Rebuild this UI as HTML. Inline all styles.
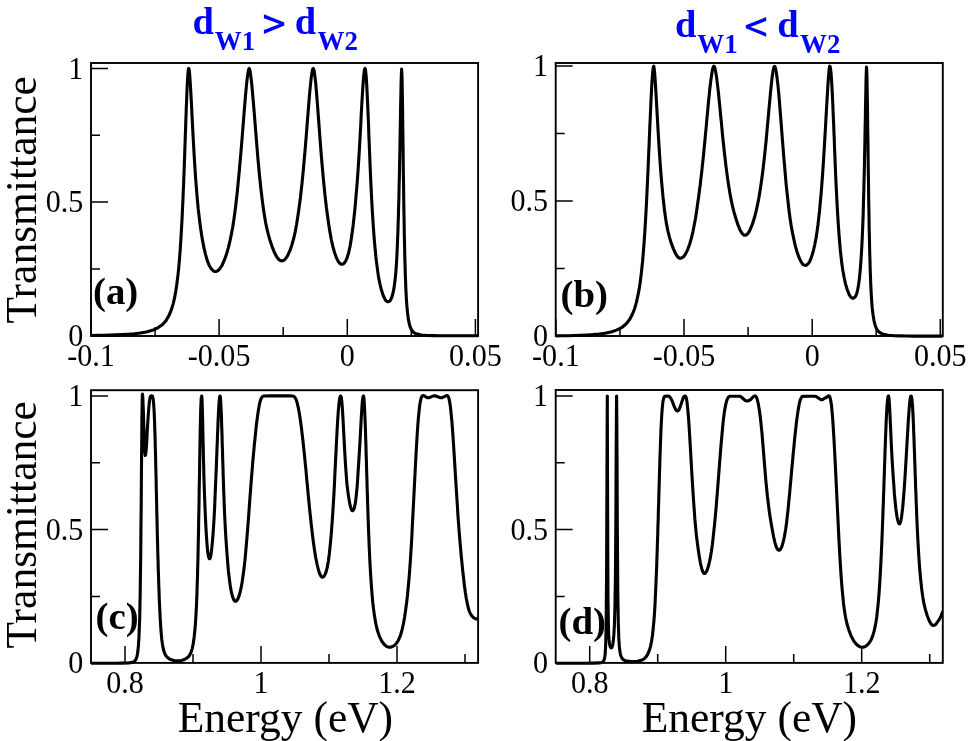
<!DOCTYPE html>
<html><head><meta charset="utf-8"><title>Transmittance</title>
<style>
html,body{margin:0;padding:0;background:#fff;}
body{width:969px;height:741px;overflow:hidden;}
svg{display:block;will-change:transform;}
text{font-family:"Liberation Serif",serif;fill:#000;}
.tk{font-size:32px;}
.ax{font-size:43.5px;}
.tag{font-size:37px;font-weight:bold;}
.ttl{font-weight:bold;fill:#0000ff;}
.fr{fill:none;stroke:#000;stroke-width:1.9;}
.t{stroke:#000;stroke-width:1.5;fill:none;}
.cv{fill:none;stroke:#000;stroke-width:3.1;stroke-linejoin:round;stroke-linecap:butt;}
</style></head>
<body>
<svg width="969" height="741" viewBox="0 0 969 741">
<rect x="0" y="0" width="969" height="741" fill="#fff"/>
<!-- panel a -->
<clipPath id="cpa"><rect x="91.0" y="62.0" width="387.1" height="276.0"/></clipPath>
<path class="t" d="M91.0 335.7h17M91.0 268.9h9M91.0 202.1h17M91.0 135.3h9M91.0 68.5h17M91.0 336.0v-17M219.1 336.0v-17M347.3 336.0v-17M475.4 336.0v-17M155.1 336.0v-9M283.2 336.0v-9M411.3 336.0v-9"/>
<path class="cv" clip-path="url(#cpa)" d="M91.0 335.5 L97.2 335.4 L103.5 335.3 L109.7 335.1 L115.9 334.9 L122.2 334.6 L128.4 334.2 L134.4 333.7 L140.4 333.0 L146.4 331.9 L152.4 330.3 L157.9 327.8 L162.6 324.4 L166.1 320.4 L168.8 315.8 L171.3 309.8 L173.1 304.1 L174.6 297.7 L175.8 290.9 L176.8 284.3 L177.8 276.4 L178.6 269.3 L179.3 261.2 L179.8 255.0 L180.3 248.2 L180.8 240.7 L181.3 232.4 L181.8 223.3 L182.3 213.4 L182.8 202.5 L183.3 190.6 L183.6 184.3 L183.8 177.9 L184.1 171.2 L184.3 164.3 L184.6 157.3 L184.8 150.2 L185.1 142.9 L185.3 135.6 L185.6 128.4 L185.8 121.2 L186.1 114.1 L186.3 107.2 L186.6 100.7 L186.8 94.5 L187.3 83.6 L187.8 75.3 L188.3 70.1 L188.6 68.7 L188.8 68.3 L189.0 69.1 L189.3 70.8 L189.8 76.2 L190.3 83.5 L190.8 92.1 L191.3 101.4 L191.8 111.1 L192.3 120.9 L192.8 130.6 L193.3 140.0 L193.8 149.0 L194.3 157.6 L194.8 165.7 L195.3 173.3 L195.8 180.4 L196.3 187.0 L196.8 193.0 L197.5 201.3 L198.2 208.7 L199.0 215.4 L199.7 221.5 L200.7 228.8 L201.7 235.4 L202.7 241.4 L204.0 247.9 L205.5 254.3 L207.2 260.3 L209.4 265.8 L211.2 268.7 L212.7 270.3 L213.9 271.2 L215.2 271.5 L216.4 271.4 L217.9 270.6 L219.6 269.0 L221.9 265.6 L224.6 259.5 L226.6 253.8 L228.3 247.8 L229.8 241.7 L231.3 234.6 L232.6 227.7 L233.6 221.4 L234.6 214.4 L235.6 206.7 L236.3 200.5 L237.1 193.8 L237.8 186.6 L238.5 179.1 L239.3 171.1 L240.0 162.7 L240.8 153.9 L241.3 147.9 L241.8 141.7 L242.3 135.5 L242.8 129.2 L243.3 122.8 L243.8 116.5 L244.3 110.2 L244.8 104.1 L245.5 95.3 L246.3 87.1 L247.0 80.0 L248.0 72.7 L248.5 70.2 L248.8 69.3 L249.0 68.7 L249.2 68.5 L249.5 68.8 L249.7 69.6 L250.2 71.9 L251.2 79.4 L252.0 86.6 L252.7 94.9 L253.5 103.8 L254.0 110.0 L254.5 116.2 L255.0 122.5 L255.5 128.8 L256.0 135.0 L256.5 141.1 L257.2 150.0 L257.9 158.5 L258.7 166.8 L259.4 174.6 L260.2 182.0 L260.9 188.9 L261.7 195.4 L262.4 201.4 L263.4 208.7 L264.4 215.3 L265.6 222.5 L266.9 228.6 L268.4 234.7 L270.1 240.8 L272.1 246.6 L274.3 252.2 L276.8 257.0 L278.8 259.5 L280.3 260.6 L281.6 260.9 L282.8 260.8 L284.0 260.2 L285.5 258.8 L287.5 255.9 L290.0 250.4 L292.0 244.5 L293.8 238.0 L295.3 231.3 L296.5 224.8 L297.7 217.3 L298.7 210.6 L299.7 203.1 L300.5 197.0 L301.2 190.5 L302.0 183.5 L302.7 176.1 L303.5 168.2 L304.2 159.8 L305.0 151.1 L305.5 145.0 L306.0 138.9 L306.5 132.6 L307.0 126.2 L307.5 119.9 L308.0 113.5 L308.5 107.3 L309.0 101.2 L309.7 92.5 L310.5 84.6 L311.2 77.8 L312.0 72.6 L312.5 70.1 L312.7 69.3 L313.0 68.7 L313.2 68.5 L313.4 68.7 L313.7 69.3 L314.2 71.3 L314.9 76.3 L315.7 83.1 L316.4 91.3 L316.9 97.3 L317.4 103.7 L317.9 110.3 L318.4 117.1 L318.9 123.9 L319.4 130.7 L319.9 137.4 L320.4 144.0 L320.9 150.4 L321.4 156.7 L321.9 162.7 L322.7 171.3 L323.4 179.5 L324.2 187.1 L324.9 194.4 L325.7 201.1 L326.4 207.5 L327.2 213.5 L328.2 220.8 L329.2 227.5 L330.2 233.4 L331.4 240.0 L332.9 246.7 L334.7 253.0 L336.7 258.4 L338.4 261.7 L339.7 263.2 L340.7 264.0 L341.7 264.3 L342.4 264.2 L343.4 263.8 L344.4 262.9 L345.6 261.1 L347.1 257.8 L348.6 252.9 L350.1 246.1 L351.3 238.8 L352.3 231.7 L353.1 225.7 L353.8 219.2 L354.6 212.2 L355.3 204.6 L356.0 196.3 L356.8 187.3 L357.3 180.8 L357.8 173.9 L358.3 166.6 L358.8 158.8 L359.3 150.6 L359.8 142.0 L360.3 133.2 L360.8 124.1 L361.2 115.1 L361.7 106.1 L362.2 97.5 L362.7 89.4 L363.2 82.2 L363.7 76.1 L364.2 71.6 L364.5 70.0 L364.7 68.9 L365.0 68.5 L365.2 68.8 L365.5 69.8 L365.7 71.5 L366.2 76.9 L366.7 84.6 L367.2 94.3 L367.7 105.4 L368.2 117.5 L368.5 123.7 L368.7 130.0 L368.9 136.3 L369.2 142.6 L369.4 148.8 L369.7 155.0 L369.9 161.0 L370.4 172.7 L370.9 183.7 L371.4 194.0 L371.9 203.5 L372.4 212.3 L372.9 220.4 L373.4 227.9 L373.9 234.7 L374.4 241.0 L375.2 249.5 L375.9 257.0 L376.7 263.6 L377.7 271.1 L378.6 277.4 L379.9 283.8 L381.4 290.0 L383.4 296.0 L384.9 299.1 L386.1 300.8 L387.1 301.5 L387.9 301.8 L388.6 301.7 L389.4 301.3 L390.1 300.6 L391.1 298.9 L392.1 296.4 L393.1 292.7 L394.1 287.4 L395.1 279.8 L395.9 271.6 L396.4 264.5 L396.9 255.7 L397.4 245.0 L397.6 238.8 L397.9 232.1 L398.1 224.6 L398.4 216.6 L398.6 207.7 L398.9 198.0 L399.1 187.3 L399.4 175.8 L399.6 163.3 L399.9 150.1 L400.1 136.2 L400.4 121.9 L400.6 107.7 L400.9 94.3 L401.1 82.4 L401.4 73.4 L401.6 69.0 L401.8 71.9 L402.1 80.3 L402.3 93.5 L402.6 110.3 L402.8 129.4 L403.1 149.2 L403.3 168.9 L403.6 187.6 L403.8 204.9 L404.1 220.5 L404.3 234.3 L404.6 246.6 L404.8 257.2 L405.1 266.5 L405.3 274.6 L405.6 281.6 L405.8 287.7 L406.3 297.6 L406.8 305.1 L407.6 313.3 L408.3 318.9 L409.3 324.0 L410.3 327.3 L411.6 329.9 L413.1 331.9 L415.3 333.5 L421.3 335.1 L427.3 335.5 L433.6 335.6 L439.8 335.7 L446.0 335.7 L452.3 335.7 L458.5 335.7 L464.8 335.7 L471.0 335.7 L477.3 335.7 L478.5 335.7"/>
<rect class="fr" x="91.0" y="63.0" width="387.1" height="273.0"/>
<text class="tk" text-anchor="end" transform="translate(83.3,345.8) scale(0.94,1)">0</text>
<text class="tk" text-anchor="end" transform="translate(83.3,212.2) scale(0.94,1)">0.5</text>
<text class="tk" text-anchor="end" transform="translate(83.3,78.6) scale(0.94,1)">1</text>
<text class="tk" text-anchor="middle" transform="translate(91.0,365.7) scale(0.94,1)">-0.1</text>
<text class="tk" text-anchor="middle" transform="translate(219.1,365.7) scale(0.94,1)">-0.05</text>
<text class="tk" text-anchor="middle" transform="translate(347.3,365.7) scale(0.94,1)">0</text>
<text class="tk" text-anchor="middle" transform="translate(475.4,365.7) scale(0.94,1)">0.05</text>
<text class="tag" transform="translate(93.0,303.5) scale(1.05,1)">(a)</text>
<!-- panel b -->
<clipPath id="cpb"><rect x="555.7" y="62.0" width="387.1" height="276.0"/></clipPath>
<path class="t" d="M555.7 336.1h17M555.7 268.6h9M555.7 201.1h17M555.7 133.6h9M555.7 66.1h17M555.9 336.0v-17M684.0 336.0v-17M812.2 336.0v-17M940.3 336.0v-17M620.0 336.0v-9M748.1 336.0v-9M876.2 336.0v-9"/>
<path class="cv" clip-path="url(#cpb)" d="M555.7 335.9 L561.9 335.8 L568.2 335.7 L574.4 335.5 L580.7 335.3 L586.9 335.0 L592.9 334.6 L598.9 334.0 L604.9 333.2 L610.9 332.0 L616.6 330.1 L622.1 327.3 L626.3 323.7 L629.6 319.5 L632.3 314.5 L634.6 308.7 L636.3 302.7 L637.8 296.2 L639.1 289.4 L640.1 282.9 L641.1 275.3 L641.8 268.7 L642.6 261.2 L643.3 252.7 L643.8 246.4 L644.3 239.6 L644.8 232.2 L645.3 224.2 L645.8 215.6 L646.3 206.3 L646.8 196.4 L647.3 185.9 L647.8 174.8 L648.3 163.2 L648.8 151.3 L649.1 145.2 L649.3 139.1 L649.6 133.0 L649.8 127.0 L650.1 121.0 L650.6 109.3 L651.1 98.4 L651.6 88.5 L652.1 80.1 L652.6 73.4 L653.1 68.8 L653.3 67.4 L653.6 66.5 L653.8 66.2 L654.0 67.1 L654.5 71.4 L655.0 77.8 L655.5 85.3 L656.0 93.7 L656.5 102.5 L657.0 111.4 L657.5 120.4 L658.0 129.1 L658.5 137.6 L659.0 145.8 L659.5 153.5 L660.0 160.9 L660.5 167.9 L661.0 174.4 L661.5 180.6 L662.3 189.2 L663.0 197.0 L663.8 204.0 L664.5 210.3 L665.5 217.6 L666.5 223.9 L667.8 230.5 L669.3 236.6 L671.0 242.4 L673.3 248.6 L675.8 254.0 L677.5 256.7 L678.8 257.8 L679.8 258.2 L680.7 258.3 L682.0 257.8 L683.5 256.7 L685.2 254.5 L687.5 250.1 L689.7 243.9 L691.5 237.7 L693.0 231.3 L694.2 225.1 L695.5 218.2 L696.5 212.1 L697.4 205.5 L698.4 198.5 L699.4 190.9 L700.2 185.0 L700.9 178.7 L701.7 172.1 L702.4 165.3 L703.2 158.1 L703.9 150.7 L704.7 143.0 L705.4 135.1 L706.2 126.9 L706.9 118.8 L707.7 110.7 L708.4 102.7 L709.2 95.1 L709.9 88.0 L710.7 81.5 L711.7 74.2 L712.4 70.1 L712.9 68.0 L713.4 66.7 L713.7 66.3 L713.9 66.2 L714.1 66.3 L714.4 66.7 L714.9 68.0 L715.6 71.3 L716.6 77.5 L717.6 85.6 L718.4 92.4 L719.1 99.7 L719.9 107.3 L720.6 115.0 L721.4 122.7 L722.1 130.4 L722.8 137.8 L723.6 145.0 L724.3 151.9 L725.1 158.5 L725.8 164.8 L726.8 172.6 L727.8 179.9 L728.8 186.5 L729.8 192.6 L731.0 199.2 L732.5 206.1 L734.0 212.1 L735.8 218.3 L737.8 224.4 L740.2 230.4 L742.0 233.2 L743.2 234.5 L744.2 235.1 L745.0 235.2 L746.0 235.0 L746.9 234.4 L748.2 233.1 L749.9 230.2 L752.4 224.2 L754.4 217.8 L756.1 211.1 L757.6 204.3 L758.9 197.8 L760.1 190.4 L761.1 183.7 L762.1 176.5 L763.1 168.6 L763.8 162.3 L764.6 155.6 L765.3 148.5 L766.1 141.0 L766.8 133.2 L767.5 125.2 L768.3 116.9 L769.0 108.6 L769.8 100.3 L770.5 92.4 L771.3 85.0 L772.0 78.3 L773.0 71.3 L773.5 68.8 L774.0 67.1 L774.3 66.6 L774.5 66.4 L774.8 66.5 L775.0 66.9 L775.5 68.2 L776.2 71.8 L777.2 79.0 L778.0 85.9 L778.8 93.9 L779.5 102.7 L780.0 108.8 L780.5 115.1 L781.0 121.5 L781.5 128.0 L782.0 134.5 L782.5 140.9 L783.0 147.2 L783.5 153.5 L784.0 159.6 L784.8 168.5 L785.5 176.9 L786.2 184.9 L787.0 192.4 L787.8 199.5 L788.5 206.0 L789.2 212.0 L790.2 219.4 L791.2 225.8 L792.5 232.9 L793.8 239.1 L795.2 245.4 L797.0 251.7 L799.0 257.5 L801.0 261.7 L802.5 263.9 L803.8 264.9 L804.8 265.3 L805.7 265.4 L806.7 265.0 L808.0 263.9 L809.5 261.8 L811.2 257.9 L813.2 251.5 L814.7 245.0 L816.0 238.3 L817.0 231.9 L818.0 224.5 L818.7 218.2 L819.5 211.2 L820.2 203.5 L821.0 194.9 L821.5 188.8 L822.0 182.2 L822.5 175.3 L823.0 168.1 L823.5 160.4 L824.0 152.5 L824.5 144.2 L825.0 135.6 L825.5 126.8 L826.0 117.9 L826.5 109.0 L827.0 100.2 L827.5 91.8 L828.0 83.8 L828.5 76.8 L829.2 68.7 L829.5 67.0 L829.7 66.2 L829.9 66.4 L830.2 66.9 L830.4 68.0 L830.9 71.9 L831.4 77.9 L831.9 85.9 L832.4 95.7 L832.9 106.8 L833.4 118.8 L833.7 125.0 L833.9 131.2 L834.2 137.5 L834.4 143.7 L834.6 149.9 L834.9 156.0 L835.1 162.0 L835.6 173.7 L836.1 184.6 L836.6 194.9 L837.1 204.4 L837.6 213.2 L838.1 221.3 L838.6 228.7 L839.1 235.5 L839.6 241.7 L840.3 249.9 L841.1 257.1 L841.8 263.3 L842.8 270.2 L844.1 277.2 L845.5 283.9 L847.3 289.8 L849.0 294.2 L850.2 296.3 L851.2 297.4 L852.2 298.1 L853.0 298.2 L853.7 298.1 L854.4 297.6 L855.2 296.8 L855.9 295.5 L856.7 293.7 L857.4 291.0 L858.4 285.9 L859.4 278.6 L860.1 271.6 L860.8 262.7 L861.3 255.4 L861.8 246.7 L862.3 236.5 L862.8 224.1 L863.1 217.1 L863.3 209.4 L863.5 201.0 L863.8 191.8 L864.0 181.8 L864.3 171.0 L864.5 159.3 L864.8 146.9 L865.0 133.8 L865.3 120.3 L865.5 106.7 L865.8 93.5 L866.0 81.6 L866.3 72.0 L866.5 67.0 L866.7 69.9 L867.0 78.3 L867.2 91.4 L867.5 107.9 L867.7 126.5 L868.0 145.9 L868.2 165.1 L868.5 183.4 L868.7 200.3 L869.0 215.7 L869.2 229.5 L869.5 241.6 L869.7 252.4 L870.0 261.8 L870.2 270.0 L870.5 277.1 L870.7 283.4 L871.2 293.6 L871.7 301.5 L872.2 307.7 L873.0 314.5 L874.0 320.6 L875.0 324.7 L876.2 328.0 L877.5 330.2 L879.2 332.1 L882.2 333.9 L888.2 335.3 L894.2 335.7 L900.4 335.9 L906.7 336.0 L912.9 336.1 L919.1 336.1 L925.4 336.1 L931.6 336.1 L937.9 336.1 L943.1 336.1"/>
<rect class="fr" x="555.7" y="63.0" width="387.1" height="273.0"/>
<text class="tk" text-anchor="end" transform="translate(548.0,346.2) scale(0.94,1)">0</text>
<text class="tk" text-anchor="end" transform="translate(548.0,211.2) scale(0.94,1)">0.5</text>
<text class="tk" text-anchor="end" transform="translate(548.0,76.2) scale(0.94,1)">1</text>
<text class="tk" text-anchor="middle" transform="translate(555.9,365.7) scale(0.94,1)">-0.1</text>
<text class="tk" text-anchor="middle" transform="translate(684.0,365.7) scale(0.94,1)">-0.05</text>
<text class="tk" text-anchor="middle" transform="translate(812.2,365.7) scale(0.94,1)">0</text>
<text class="tk" text-anchor="middle" transform="translate(940.3,365.7) scale(0.94,1)">0.05</text>
<text class="tag" transform="translate(560.5,306.5) scale(1.05,1)">(b)</text>
<!-- panel c -->
<clipPath id="cpc"><rect x="91.0" y="389.2" width="387.1" height="275.7"/></clipPath>
<path class="t" d="M91.0 663.3h17M91.0 596.5h9M91.0 529.6h17M91.0 462.8h9M91.0 396.0h17M125.0 662.9v-17M261.0 662.9v-17M397.0 662.9v-17M193.0 662.9v-9M329.0 662.9v-9M465.0 662.9v-9"/>
<path class="cv" clip-path="url(#cpc)" d="M91.0 663.2 L97.2 663.2 L103.5 663.2 L109.7 663.2 L116.0 663.2 L122.2 663.1 L128.4 663.0 L132.4 662.4 L133.9 661.7 L134.9 660.8 L135.7 659.8 L136.4 658.2 L136.9 656.6 L137.4 654.2 L137.9 650.8 L138.4 645.7 L138.9 637.9 L139.4 625.8 L139.7 617.4 L139.9 606.8 L140.2 593.5 L140.4 577.0 L140.7 556.9 L140.9 532.8 L141.2 505.2 L141.4 475.2 L141.7 445.2 L141.9 418.9 L142.2 400.6 L142.4 394.0 L142.6 395.3 L142.9 399.2 L143.4 412.4 L143.6 420.4 L143.9 428.5 L144.1 436.0 L144.3 442.7 L144.8 452.2 L145.1 454.7 L145.3 455.5 L145.5 455.0 L145.8 453.5 L146.3 448.3 L146.8 440.7 L147.2 432.2 L147.7 423.7 L148.2 415.9 L148.7 409.1 L149.4 401.7 L149.9 398.5 L150.4 396.7 L150.6 396.2 L150.9 396.0 L151.1 395.8 L151.8 395.8 L152.1 395.9 L152.3 396.1 L152.6 396.6 L152.8 397.5 L153.1 398.8 L153.6 403.2 L154.1 410.9 L154.6 422.5 L154.8 429.8 L155.1 438.0 L155.3 447.2 L155.6 457.1 L155.8 467.7 L156.1 478.6 L156.3 489.8 L156.6 501.1 L156.8 512.3 L157.1 523.2 L157.3 533.7 L157.6 543.7 L157.8 553.2 L158.1 562.1 L158.3 570.4 L158.6 578.4 L158.8 586.0 L159.1 593.1 L159.3 599.7 L159.6 605.8 L160.1 616.4 L160.6 625.0 L161.1 631.9 L161.8 639.7 L162.6 645.1 L163.3 649.0 L164.3 652.4 L165.5 655.1 L167.0 657.1 L169.5 659.0 L174.3 660.7 L180.0 660.9 L184.5 659.5 L187.5 657.6 L189.0 656.1 L190.2 654.2 L191.2 651.9 L192.2 648.6 L193.2 643.8 L194.2 636.7 L195.0 629.1 L195.5 622.6 L196.0 614.6 L196.5 604.6 L197.0 592.1 L197.2 584.7 L197.5 576.4 L197.7 567.1 L198.0 556.8 L198.2 545.5 L198.5 533.1 L198.7 519.6 L199.0 505.2 L199.2 490.1 L199.5 474.7 L199.7 459.3 L200.0 444.6 L200.2 431.1 L200.5 419.4 L200.7 410.0 L201.0 403.0 L201.2 398.6 L201.5 396.5 L201.7 396.0 L201.9 397.9 L202.2 403.4 L202.4 411.9 L202.7 422.4 L202.9 433.9 L203.2 445.6 L203.4 456.8 L203.7 467.3 L203.9 476.8 L204.2 485.1 L204.4 492.5 L204.7 499.2 L204.9 505.3 L205.4 516.6 L205.9 526.9 L206.4 535.7 L206.9 542.9 L207.6 550.8 L208.1 554.4 L208.6 556.9 L209.1 558.3 L209.4 558.7 L209.6 558.8 L209.8 558.7 L210.1 558.2 L210.6 556.6 L211.1 553.9 L211.8 547.9 L212.6 539.7 L213.1 533.2 L213.6 525.9 L214.1 517.6 L214.6 508.2 L215.0 497.7 L215.5 486.4 L216.0 474.2 L216.3 467.9 L216.5 461.4 L216.8 454.9 L217.0 448.3 L217.3 441.7 L217.5 435.1 L217.8 428.8 L218.0 422.7 L218.5 411.8 L219.0 403.3 L219.5 397.8 L219.8 396.4 L220.0 396.0 L220.2 396.5 L220.5 398.3 L220.7 401.5 L221.2 411.8 L221.5 418.5 L221.7 426.0 L222.0 434.1 L222.2 442.5 L222.5 451.0 L222.7 459.5 L223.0 467.9 L223.2 475.9 L223.5 483.7 L223.7 491.0 L224.0 498.0 L224.2 504.4 L224.7 516.0 L225.2 526.0 L225.7 534.9 L226.2 542.7 L226.7 549.9 L227.2 556.5 L227.7 562.6 L228.4 570.9 L229.2 577.8 L230.2 585.3 L231.4 592.4 L232.7 597.2 L233.7 599.6 L234.4 600.8 L234.9 601.2 L235.4 601.3 L235.9 601.2 L236.4 600.9 L237.1 600.1 L238.1 598.4 L239.4 594.9 L240.9 588.9 L242.1 582.2 L243.1 575.6 L244.1 567.7 L244.9 560.9 L245.6 553.3 L246.3 544.9 L247.1 535.9 L247.6 529.5 L248.1 523.0 L248.6 516.3 L249.1 509.5 L249.6 502.7 L250.1 495.9 L250.6 489.3 L251.1 482.7 L251.6 476.4 L252.1 470.3 L252.8 461.5 L253.6 453.1 L254.3 445.2 L255.1 437.7 L255.8 430.6 L256.5 424.0 L257.3 417.9 L258.3 410.8 L259.5 404.0 L260.5 400.2 L261.3 398.3 L262.0 397.1 L262.8 396.4 L263.8 396.0 L270.0 395.9 L276.2 395.9 L282.5 395.9 L288.8 395.9 L292.7 396.0 L293.7 396.4 L294.5 396.9 L295.2 397.9 L296.0 399.3 L297.0 402.2 L298.2 407.3 L299.5 414.3 L300.5 421.0 L301.5 428.5 L302.2 434.7 L303.0 441.2 L303.7 448.1 L304.5 455.4 L305.2 462.9 L306.0 470.7 L306.7 478.8 L307.5 486.9 L308.2 494.8 L309.0 502.5 L309.7 510.0 L310.5 517.2 L311.2 524.1 L312.0 530.7 L312.7 536.8 L313.7 544.5 L314.7 551.4 L315.7 557.5 L317.0 564.0 L318.5 570.2 L319.7 573.8 L320.7 575.8 L321.5 576.7 L322.0 577.1 L322.4 577.2 L322.9 577.1 L323.4 576.8 L324.2 576.0 L324.9 574.8 L325.9 572.3 L327.2 567.7 L328.4 560.8 L329.4 553.2 L330.1 546.3 L330.9 538.1 L331.4 532.1 L331.9 525.5 L332.4 518.5 L332.9 511.0 L333.4 502.9 L333.9 494.4 L334.4 485.3 L334.8 475.9 L335.3 466.0 L335.8 456.0 L336.3 445.9 L336.8 436.0 L337.3 426.7 L337.8 418.3 L338.3 411.0 L339.1 402.7 L339.6 399.0 L339.8 397.8 L340.1 396.9 L340.3 396.3 L340.6 396.1 L340.8 396.0 L341.0 396.3 L341.3 397.4 L341.8 401.4 L342.3 407.6 L342.8 415.6 L343.3 424.6 L343.8 434.1 L344.3 443.6 L344.8 452.8 L345.3 461.4 L345.8 469.1 L346.3 475.9 L347.0 484.5 L347.8 491.1 L348.8 498.1 L350.0 504.9 L350.8 507.8 L351.5 509.8 L352.0 510.5 L352.3 510.7 L352.5 510.8 L352.7 510.7 L353.0 510.6 L353.5 510.0 L354.0 508.8 L354.7 506.2 L355.5 502.1 L356.2 496.1 L357.0 488.1 L357.5 481.7 L357.9 474.7 L358.4 467.4 L358.9 459.7 L359.4 451.7 L359.9 443.1 L360.4 434.1 L360.9 424.6 L361.4 415.5 L361.9 407.4 L362.4 401.1 L362.7 398.8 L362.9 397.2 L363.2 396.3 L363.4 396.0 L363.6 396.4 L363.9 397.9 L364.1 400.4 L364.6 408.8 L365.1 421.0 L365.4 428.2 L365.6 436.0 L365.9 444.2 L366.1 452.6 L366.4 461.2 L366.6 469.9 L366.9 478.5 L367.1 486.9 L367.4 495.1 L367.6 503.1 L367.9 510.8 L368.1 518.2 L368.4 525.3 L368.6 532.0 L368.9 538.3 L369.1 544.4 L369.6 555.5 L370.1 565.3 L370.6 574.1 L371.1 581.8 L371.6 588.7 L372.1 594.8 L372.8 602.7 L373.6 609.4 L374.6 616.6 L375.8 623.7 L377.3 630.1 L379.3 636.1 L382.0 641.5 L384.5 644.7 L386.5 646.4 L388.2 647.1 L390.4 647.2 L392.7 646.5 L394.7 645.2 L396.7 643.0 L398.4 640.2 L400.2 636.2 L401.9 630.5 L403.4 623.9 L404.6 617.0 L405.6 610.3 L406.6 602.7 L407.4 596.0 L408.1 588.5 L408.9 580.0 L409.4 573.8 L409.9 567.1 L410.4 559.9 L410.9 552.2 L411.4 544.1 L411.9 535.5 L412.3 526.4 L412.8 517.1 L413.3 507.4 L413.8 497.6 L414.3 487.7 L414.8 477.9 L415.3 468.2 L415.8 458.7 L416.3 449.6 L416.8 441.0 L417.3 432.9 L417.8 425.6 L418.3 419.1 L419.1 410.9 L419.8 404.6 L420.6 400.3 L421.1 398.3 L421.6 396.9 L422.1 396.1 L422.6 395.7 L423.3 395.6 L424.1 395.7 L426.8 397.5 L427.6 397.8 L429.3 397.6 L433.5 395.9 L435.0 395.8 L440.5 397.7 L441.7 397.8 L445.9 395.8 L446.9 395.6 L447.4 395.7 L447.9 396.0 L448.4 396.9 L448.9 398.2 L449.6 401.6 L450.4 406.7 L451.1 413.4 L451.9 421.8 L452.4 428.2 L452.9 435.2 L453.4 442.6 L453.9 450.4 L454.4 458.4 L454.9 466.6 L455.4 474.8 L455.9 482.9 L456.4 490.8 L456.9 498.5 L457.4 506.0 L457.8 513.3 L458.3 520.3 L458.8 527.0 L459.3 533.5 L459.8 539.7 L460.6 548.5 L461.3 556.7 L462.1 564.4 L462.8 571.5 L463.6 578.2 L464.3 584.6 L465.3 592.2 L466.3 598.6 L467.6 605.0 L469.0 610.5 L470.3 613.5 L472.0 616.2 L473.8 617.9 L475.8 618.9 L478.5 619.3"/>
<rect class="fr" x="91.0" y="390.2" width="387.1" height="272.7"/>
<text class="tk" text-anchor="end" transform="translate(83.3,673.4) scale(0.94,1)">0</text>
<text class="tk" text-anchor="end" transform="translate(83.3,539.8) scale(0.94,1)">0.5</text>
<text class="tk" text-anchor="end" transform="translate(83.3,406.1) scale(0.94,1)">1</text>
<text class="tk" text-anchor="middle" transform="translate(125.0,692.6) scale(0.94,1)">0.8</text>
<text class="tk" text-anchor="middle" transform="translate(261.0,692.6) scale(0.94,1)">1</text>
<text class="tk" text-anchor="middle" transform="translate(397.0,692.6) scale(0.94,1)">1.2</text>
<text class="tag" transform="translate(95.5,628.5) scale(1.05,1)">(c)</text>
<!-- panel d -->
<clipPath id="cpd"><rect x="555.7" y="389.0" width="387.1" height="275.9"/></clipPath>
<path class="t" d="M555.7 663.3h17M555.7 596.5h9M555.7 529.6h17M555.7 462.8h9M555.7 396.0h17M589.7 662.9v-17M725.7 662.9v-17M861.7 662.9v-17M657.7 662.9v-9M793.7 662.9v-9M929.7 662.9v-9"/>
<path class="cv" clip-path="url(#cpd)" d="M555.7 663.2 L561.9 663.2 L568.2 663.2 L574.4 663.2 L580.6 663.2 L586.9 663.2 L593.1 663.1 L599.3 662.9 L601.8 662.4 L602.8 661.9 L603.3 661.4 L603.8 660.6 L604.3 659.2 L604.8 656.7 L605.1 654.6 L605.3 651.5 L605.6 646.8 L605.8 639.4 L606.1 627.1 L606.3 606.1 L606.6 569.9 L606.8 510.8 L607.1 436.0 L607.3 396.0 L607.5 470.7 L607.8 557.6 L608.0 599.6 L608.3 619.4 L608.5 629.7 L608.7 635.7 L609.0 639.4 L609.5 643.8 L610.0 646.0 L610.4 647.2 L610.9 647.7 L611.4 647.9 L611.6 647.8 L611.9 647.4 L612.4 646.0 L612.9 643.5 L613.4 639.8 L613.9 634.2 L614.4 624.9 L614.6 618.1 L614.9 609.1 L615.1 596.5 L615.4 578.6 L615.6 552.4 L615.9 515.0 L616.1 466.0 L616.4 416.9 L616.6 396.0 L616.8 417.3 L617.1 470.6 L617.3 524.6 L617.6 565.0 L617.8 592.4 L618.1 610.7 L618.3 623.1 L618.6 631.8 L618.8 637.9 L619.3 645.9 L619.8 650.6 L620.3 653.6 L620.8 655.6 L621.6 657.5 L622.3 658.7 L623.3 659.7 L625.3 660.7 L631.3 661.6 L637.5 661.3 L642.0 660.1 L644.5 658.5 L646.2 656.6 L647.7 654.3 L649.2 650.7 L650.5 646.4 L651.5 641.6 L652.5 635.0 L653.2 628.4 L654.0 620.0 L654.5 613.1 L655.0 605.0 L655.4 595.7 L655.9 584.9 L656.4 572.6 L656.7 565.9 L656.9 558.8 L657.2 551.4 L657.4 543.6 L657.7 535.6 L657.9 527.4 L658.2 518.9 L658.4 510.4 L658.7 501.7 L658.9 492.9 L659.2 484.3 L659.4 475.7 L659.7 467.4 L659.9 459.4 L660.2 451.8 L660.4 444.5 L660.7 437.8 L660.9 431.7 L661.4 421.0 L661.9 412.6 L662.4 406.4 L662.9 402.1 L663.4 399.3 L663.9 397.5 L664.4 396.6 L664.9 396.2 L667.9 396.0 L668.9 396.3 L669.6 396.8 L670.6 398.0 L672.1 400.9 L674.3 406.7 L675.5 409.3 L676.3 410.3 L676.8 410.7 L677.3 411.0 L677.8 411.0 L678.2 410.6 L678.8 410.0 L679.8 407.9 L681.8 401.9 L683.2 397.9 L684.0 396.7 L684.5 396.2 L685.0 396.0 L685.2 396.0 L685.5 396.2 L685.7 396.5 L686.0 397.1 L686.5 398.9 L687.0 401.9 L687.7 408.7 L688.5 417.8 L689.0 425.1 L689.5 433.0 L690.0 441.4 L690.5 450.0 L691.0 458.8 L691.5 467.5 L692.0 476.0 L692.5 484.3 L693.0 492.2 L693.5 499.7 L694.0 506.8 L694.5 513.5 L694.9 519.7 L695.7 528.0 L696.4 535.2 L697.2 541.7 L698.2 549.3 L699.2 556.0 L700.4 563.1 L701.7 568.4 L702.7 571.4 L703.4 572.8 L703.9 573.3 L704.2 573.5 L704.6 573.5 L705.1 573.3 L705.9 572.5 L706.6 571.3 L707.6 568.9 L709.1 563.5 L710.4 557.4 L711.4 551.3 L712.4 544.2 L713.1 538.1 L713.8 531.4 L714.6 524.1 L715.3 516.3 L716.1 507.8 L716.8 498.9 L717.3 492.8 L717.8 486.5 L718.3 480.0 L718.8 473.5 L719.3 467.0 L719.8 460.5 L720.3 454.1 L720.8 447.9 L721.3 441.8 L722.1 433.3 L722.8 425.5 L723.5 418.7 L724.5 411.1 L725.8 404.1 L726.8 400.4 L727.5 398.6 L728.3 397.4 L729.0 396.7 L730.0 396.2 L736.2 396.2 L739.7 396.3 L740.9 396.8 L745.0 400.3 L746.3 400.9 L747.8 400.9 L749.2 400.5 L750.8 399.4 L753.2 396.7 L754.0 396.2 L755.0 396.0 L755.5 396.1 L756.0 396.6 L756.5 397.4 L757.2 399.3 L758.2 403.4 L759.5 410.9 L760.5 418.8 L761.2 425.6 L762.0 433.4 L762.7 442.0 L763.2 448.0 L763.7 454.2 L764.2 460.4 L764.7 466.6 L765.2 472.6 L765.9 481.2 L766.7 489.1 L767.4 496.2 L768.2 502.5 L769.1 510.1 L770.1 516.9 L771.1 523.1 L772.4 530.3 L773.6 536.8 L775.1 543.1 L776.3 547.0 L777.3 549.0 L777.8 549.7 L778.3 550.1 L778.8 550.2 L779.3 550.2 L779.8 549.9 L780.6 549.0 L781.6 547.2 L782.8 543.5 L784.3 537.1 L785.6 529.8 L786.6 522.5 L787.3 516.2 L788.1 509.2 L788.8 501.7 L789.6 493.7 L790.3 485.4 L791.1 477.1 L791.8 468.8 L792.6 460.6 L793.3 452.6 L794.1 444.8 L794.8 437.2 L795.6 430.1 L796.3 423.5 L797.1 417.4 L798.1 410.4 L799.3 403.6 L800.3 399.9 L801.1 398.0 L801.6 397.2 L802.1 396.7 L802.6 396.4 L808.8 396.3 L815.0 396.3 L816.2 396.6 L820.7 399.5 L821.7 399.8 L822.4 399.7 L824.9 398.0 L825.4 397.8 L825.9 397.8 L826.4 397.5 L827.9 396.1 L828.4 395.8 L828.9 395.8 L829.1 395.9 L829.4 396.2 L829.6 396.5 L830.1 397.8 L830.6 399.9 L831.4 404.7 L832.1 411.9 L832.6 417.9 L833.1 424.9 L833.6 432.9 L834.1 441.6 L834.6 450.9 L835.1 460.7 L835.6 470.9 L836.1 481.2 L836.6 491.6 L837.1 501.9 L837.6 512.2 L838.1 522.5 L838.6 532.6 L839.1 542.3 L839.6 551.5 L840.1 560.2 L840.6 568.3 L841.1 575.8 L841.6 582.6 L842.1 588.8 L842.9 597.0 L843.6 604.0 L844.6 611.6 L845.6 617.5 L847.1 624.3 L848.9 630.3 L851.1 635.9 L854.1 641.4 L856.6 644.5 L858.9 646.3 L860.9 647.1 L863.1 647.2 L865.3 646.5 L867.3 645.1 L869.3 642.8 L871.1 639.8 L872.8 635.6 L874.3 630.4 L875.8 623.1 L876.8 616.4 L877.5 610.1 L878.3 602.4 L878.8 596.5 L879.3 589.7 L879.8 582.1 L880.3 573.6 L880.8 564.2 L881.3 553.8 L881.8 542.7 L882.3 530.7 L882.5 524.3 L882.8 517.8 L883.0 510.9 L883.3 504.0 L883.5 496.8 L883.8 489.5 L884.0 482.1 L884.3 474.6 L884.5 467.1 L884.8 459.7 L885.0 452.4 L885.3 445.3 L885.5 438.4 L885.8 431.8 L886.0 425.7 L886.5 414.8 L887.0 406.3 L887.5 400.3 L887.8 398.3 L888.0 396.9 L888.3 396.2 L888.5 396.0 L888.7 396.7 L889.0 398.5 L889.5 405.4 L890.0 415.1 L890.5 426.2 L891.0 437.5 L891.5 448.1 L892.0 457.6 L892.5 466.0 L893.0 473.7 L893.5 480.9 L894.0 487.6 L894.4 493.9 L895.2 502.2 L895.9 509.0 L896.9 516.2 L897.7 520.1 L898.2 521.9 L898.7 523.2 L898.9 523.6 L899.2 523.8 L899.4 523.9 L899.6 523.8 L899.9 523.5 L900.4 522.4 L900.9 520.6 L901.6 516.5 L902.6 508.4 L903.3 500.6 L903.8 494.4 L904.3 487.7 L904.8 480.3 L905.3 472.4 L905.8 464.1 L906.3 455.5 L906.8 446.7 L907.3 438.0 L907.8 429.3 L908.3 421.1 L908.8 413.6 L909.3 407.0 L910.0 399.8 L910.5 397.0 L910.8 396.2 L911.0 396.0 L911.2 396.1 L911.5 396.7 L911.7 397.9 L912.0 399.8 L912.5 405.8 L913.0 414.6 L913.5 425.9 L913.7 432.2 L914.0 438.9 L914.2 445.9 L914.5 453.1 L914.7 460.4 L915.0 467.7 L915.2 474.9 L915.5 482.1 L915.7 489.1 L916.0 495.9 L916.2 502.5 L916.5 508.8 L916.7 514.9 L917.2 526.3 L917.7 536.7 L918.2 546.0 L918.7 554.4 L919.2 561.9 L919.7 568.6 L920.2 574.6 L921.0 582.4 L921.7 589.1 L922.7 596.4 L923.9 603.4 L925.4 609.7 L927.2 615.5 L929.2 620.7 L930.7 623.4 L931.7 624.6 L932.4 625.2 L933.2 625.4 L934.1 625.3 L935.1 624.9 L936.1 624.0 L939.6 618.8 L940.6 617.0 L942.4 612.4 L942.6 611.9 L942.9 611.6 L943.1 611.5"/>
<rect class="fr" x="555.7" y="390.0" width="387.1" height="272.9"/>
<text class="tk" text-anchor="end" transform="translate(548.0,673.4) scale(0.94,1)">0</text>
<text class="tk" text-anchor="end" transform="translate(548.0,539.8) scale(0.94,1)">0.5</text>
<text class="tk" text-anchor="end" transform="translate(548.0,406.1) scale(0.94,1)">1</text>
<text class="tk" text-anchor="middle" transform="translate(589.7,692.6) scale(0.94,1)">0.8</text>
<text class="tk" text-anchor="middle" transform="translate(725.7,692.6) scale(0.94,1)">1</text>
<text class="tk" text-anchor="middle" transform="translate(861.7,692.6) scale(0.94,1)">1.2</text>
<text class="tag" transform="translate(558.5,633.5) scale(1.05,1)">(d)</text>
<text class="ax" text-anchor="middle" transform="translate(36,199.8) rotate(-90)">Transmittance</text>
<text class="ax" text-anchor="middle" transform="translate(36,524.8) rotate(-90)">Transmittance</text>
<text class="ax" text-anchor="middle" x="285.4" y="731.5">Energy (eV)</text>
<text class="ax" text-anchor="middle" x="749.4" y="731.5">Energy (eV)</text>
<text class="ttl" font-size="37" transform="translate(192.6,33.8) scale(1.04,1)">d</text><text class="ttl" font-size="28.3" transform="translate(214.8,49.9) scale(0.95,1)">W1</text><path fill="#0000ff" d="M263.9 14.2L284.3 22.5V25.4L263.9 34V30.1L279.6 24.1L263.9 18.2Z"/><text class="ttl" font-size="37" transform="translate(294.8,33.8) scale(1.04,1)">d</text><text class="ttl" font-size="28.3" transform="translate(317.5,49.9) scale(0.95,1)">W2</text>
<text class="ttl" font-size="37" transform="translate(675.1,36.8) scale(1.04,1)">d</text><text class="ttl" font-size="28.3" transform="translate(697.3,52.9) scale(0.95,1)">W1</text><path fill="#0000ff" d="M766.2 17L745.8 25.3V28.2L766.2 36.8V32.9L750.5 26.9L766.2 21Z"/><text class="ttl" font-size="37" transform="translate(777.3,36.8) scale(1.04,1)">d</text><text class="ttl" font-size="28.3" transform="translate(800.0,52.9) scale(0.95,1)">W2</text>
</svg>
</body></html>
